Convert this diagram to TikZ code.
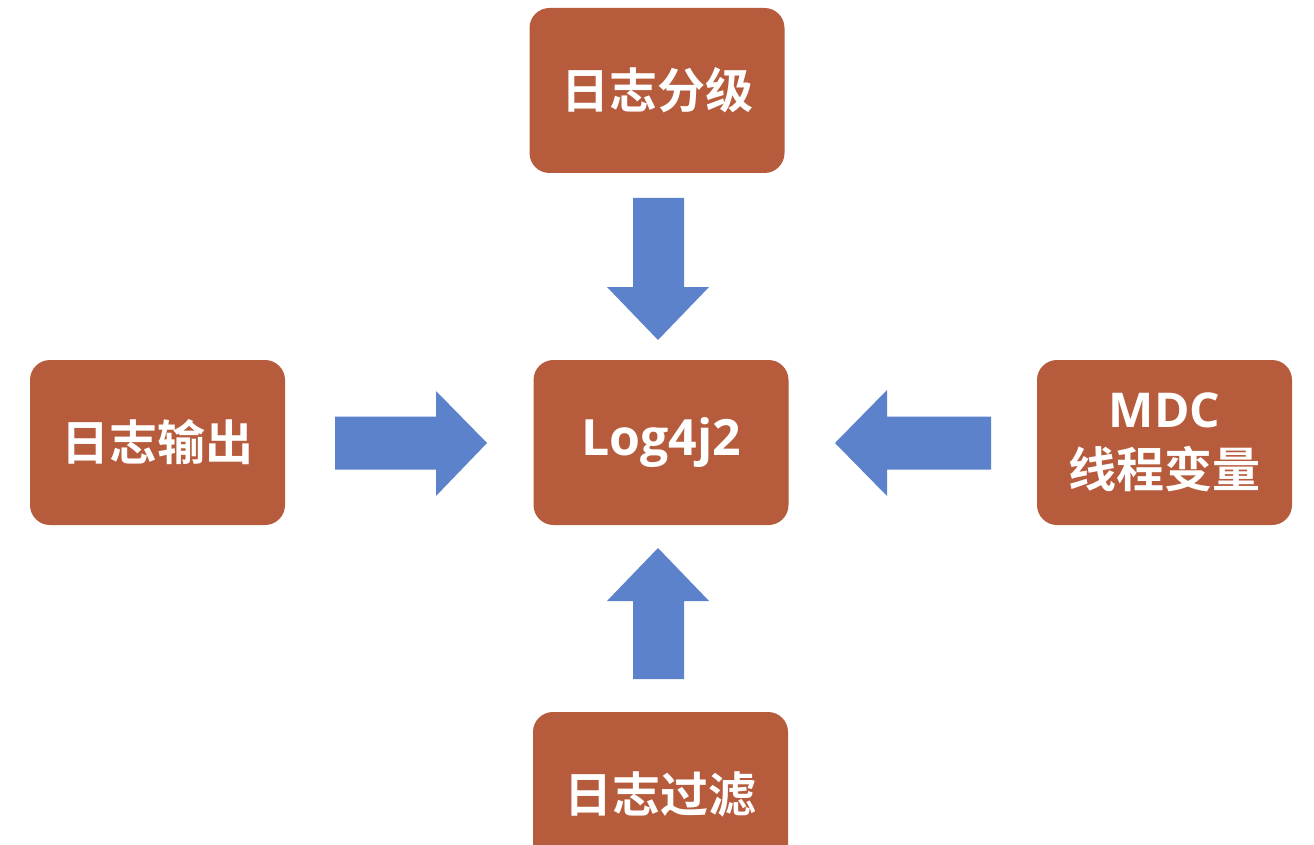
\documentclass[tikz,border=0pt]{standalone}
\usepackage{fontspec}
\setmainfont{Open Sans}
\newfontfamily\cjk{Noto Sans CJK SC Bold}
\definecolor{boxfill}{HTML}{B65B3B}
\definecolor{arrowfill}{HTML}{5C82CC}
\begin{document}
\begin{tikzpicture}[x=1pt,y=-1pt,
  box/.style={fill=boxfill, rounded corners=20pt, minimum width=255pt, minimum height=165pt, inner sep=0pt, text=white, align=center},
  blockarrow/.style={fill=arrowfill, draw=none}]
\useasboundingbox (0,0) rectangle (1314,845);
\clip (0,0) rectangle (1314,845);
\fill[white] (0,0) rectangle (1314,845);
\node[box] (top) at (657,90.5) {\cjk\fontsize{48}{56}\selectfont 日志分级};
\node[box] (center) at (661,442.5) {\bfseries\fontsize{50}{56}\selectfont Log4j2};
\node[box] (left) at (157.5,442.5) {\cjk\fontsize{48}{56}\selectfont 日志输出};
\node[box, font=\fontsize{48}{60}\selectfont] (right) at (1164.5,442.5) {\bfseries MDC\\\cjk 线程变量};
\node[box] (bottom) at (660.5,794.5) {\cjk\fontsize{48}{56}\selectfont 日志过滤};
% top arrow (down)
\fill[blockarrow] (633,198) -- (684,198) -- (684,287) -- (709,287) -- (658,340) -- (607,287) -- (633,287) -- cycle;
% left arrow (right)
\fill[blockarrow] (335,416.5) -- (436,416.5) -- (436,391) -- (487,443) -- (436,496) -- (436,469.5) -- (335,469.5) -- cycle;
% right arrow (left)
\fill[blockarrow] (991,416.5) -- (887,416.5) -- (887,390) -- (835,443) -- (887,496) -- (887,469.5) -- (991,469.5) -- cycle;
% bottom arrow (up)
\fill[blockarrow] (633,679) -- (684,679) -- (684,601) -- (709,601) -- (658,548) -- (607,601) -- (633,601) -- cycle;
\end{tikzpicture}
\end{document}
